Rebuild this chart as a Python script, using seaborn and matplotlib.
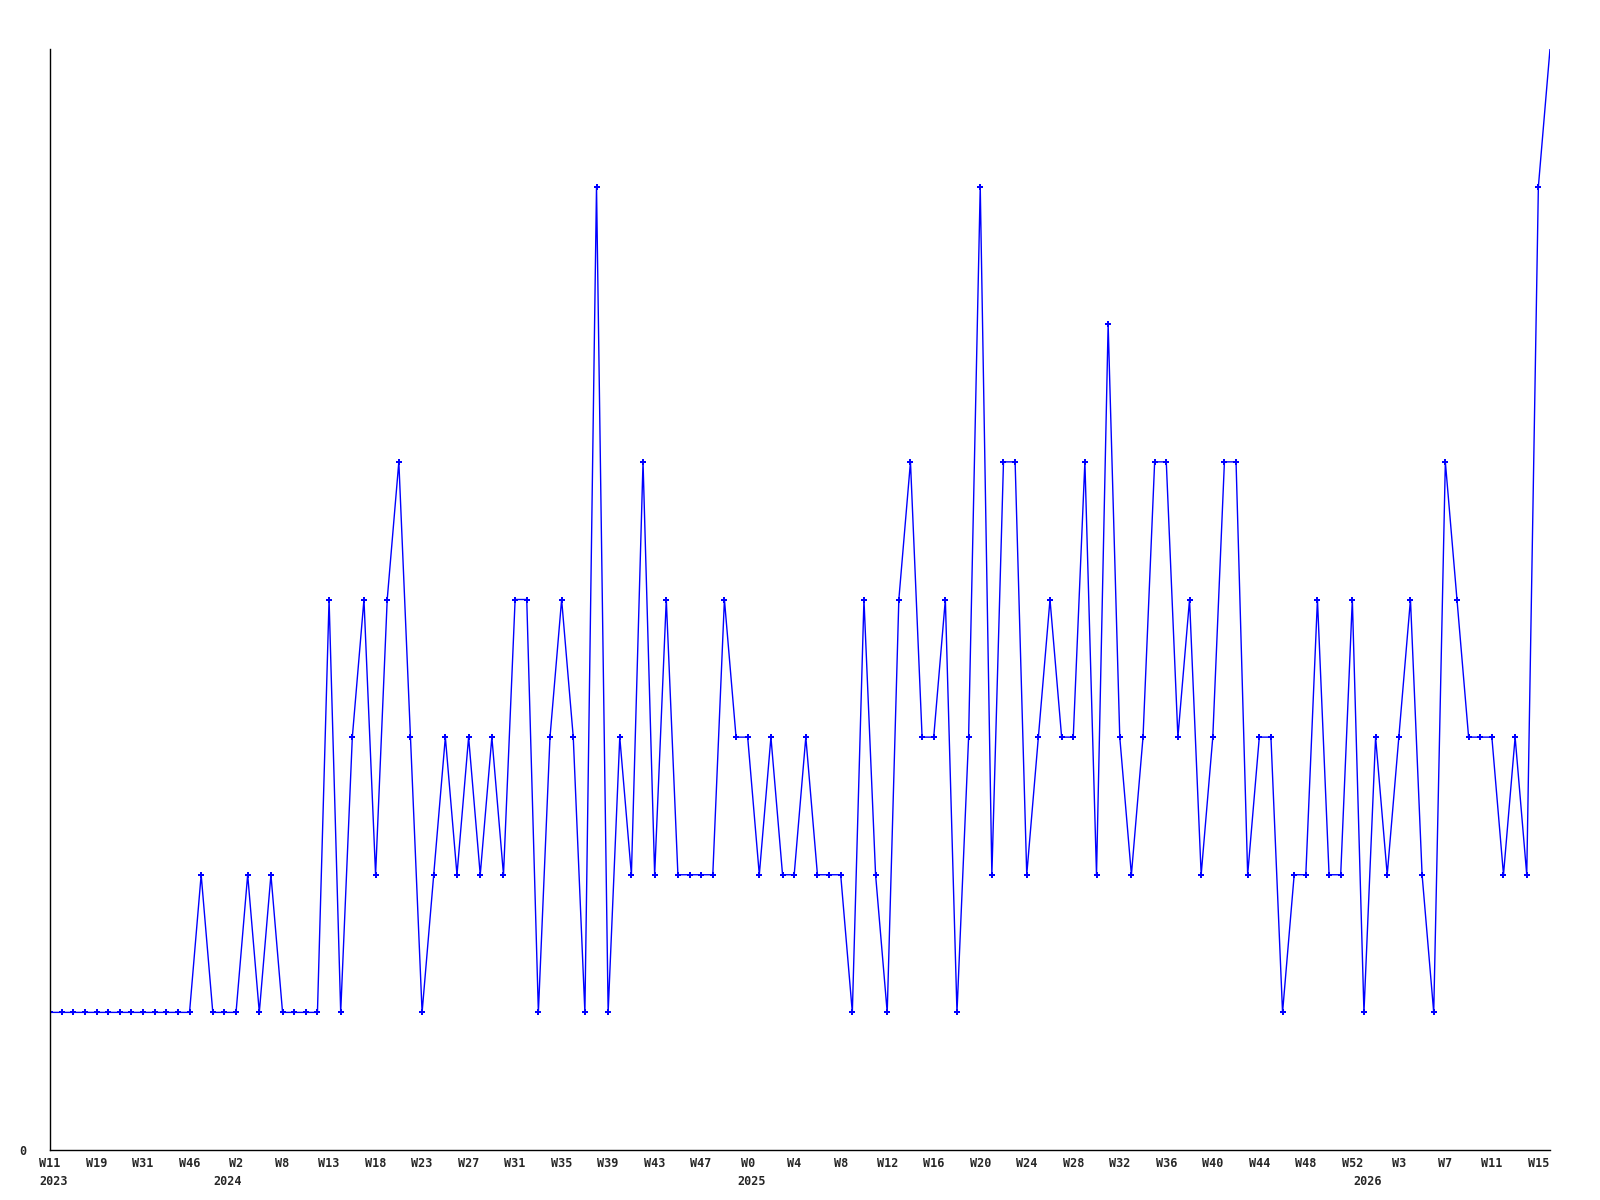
import matplotlib
matplotlib.use("Agg")
import matplotlib.pyplot as plt
import seaborn as sns
import pandas as pd

# ---- data -------------------------------------------------------------
values = [
    1, 1, 1, 1, 1, 1, 1, 1, 1, 1, 1, 1, 1, 2, 1, 1, 1, 2, 1, 2,
    1, 1, 1, 1, 4, 1, 3, 4, 2, 4, 5, 3, 1, 2, 3, 2, 3, 2, 3, 2,
    4, 4, 1, 3, 4, 3, 1, 7, 1, 3, 2, 5, 2, 4, 2, 2, 2, 2, 4, 3,
    3, 2, 3, 2, 2, 3, 2, 2, 2, 1, 4, 2, 1, 4, 5, 3, 3, 4, 1, 3,
    7, 2, 5, 5, 2, 3, 4, 3, 3, 5, 2, 6, 3, 2, 3, 5, 5, 3, 4, 2,
    3, 5, 5, 2, 3, 3, 1, 2, 2, 4, 2, 2, 4, 1, 3, 2, 3, 4, 2, 1,
    5, 4, 3, 3, 3, 2, 3, 2, 7, 8,
]
tick_labels = [
    "W11", "W19", "W31", "W46", "W2", "W8", "W13", "W18", "W23", "W27",
    "W31", "W35", "W39", "W43", "W47", "W0", "W4", "W8", "W12", "W16",
    "W20", "W24", "W28", "W32", "W36", "W40", "W44", "W48", "W52", "W3",
    "W7", "W11", "W15",
]
tick_step = 4
year_labels = ["2023", "2024", "2025", "2026"]
year_start_index = [0, 15, 60, 113]

# ---- plot -------------------------------------------------------------
sns.set_style("white")
plt.rcParams["font.family"] = ["DejaVu Sans Mono", "DejaVu Sans"]

idx = list(range(len(values)))
df = pd.DataFrame({"idx": idx, "value": values})

fig = plt.figure(figsize=(16, 12), dpi=100)
ax = fig.add_axes([50 / 1600, 50 / 1200, 1500 / 1600, 1101 / 1200])

sns.lineplot(
    data=df, x="idx", y="value", ax=ax,
    color="#0000ff", linewidth=1.0,
    marker="P", markersize=4, markeredgewidth=0,
    markevery=list(range(len(values) - 1)),
)

ax.set_xlim(0, len(values) - 1)
ax.set_ylim(0, 8)

ax.set_xticks(idx[::tick_step])
ax.set_xticklabels(tick_labels, fontsize=8.5, fontweight="bold")
ax.set_yticks([0])
ax.set_yticklabels(["0"], fontsize=8.5, fontweight="bold")
ax.tick_params(axis="x", length=0, pad=5)
ax.tick_params(axis="y", length=0, pad=17)

for lab, i in zip(year_labels, year_start_index):
    ax.annotate(
        lab, xy=(i, 0), xycoords=("data", "axes fraction"),
        xytext=(-7.6, -22.7), textcoords="offset points",
        ha="left", va="center", fontsize=8.5, fontweight="bold",
    )

ax.set_xlabel("")
ax.set_ylabel("")
for side in ("top", "right"):
    ax.spines[side].set_visible(False)
for side in ("left", "bottom"):
    ax.spines[side].set_color("black")
    ax.spines[side].set_linewidth(1.0)
ax.grid(False)

fig.savefig("out.png", dpi=100, facecolor="white")
